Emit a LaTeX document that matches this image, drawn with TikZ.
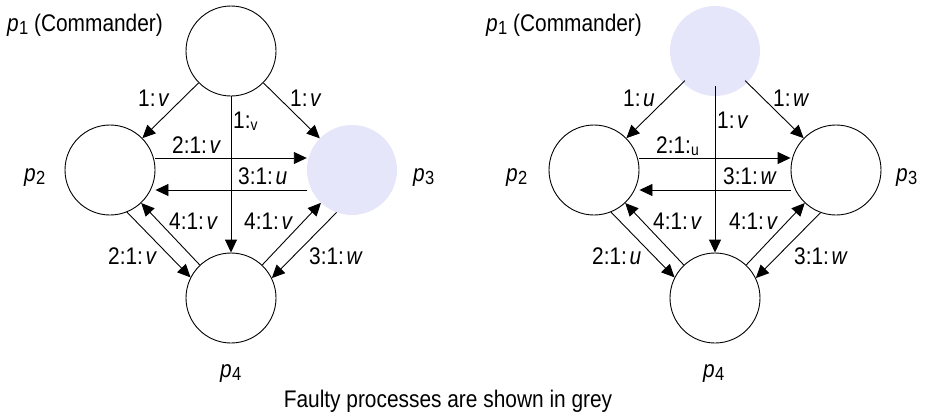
\documentclass[tikz,border=0pt]{standalone}
\usepackage{fontspec}
\setmainfont{Liberation Sans}[FakeStretch=0.87]
\usetikzlibrary{arrows.meta}
\definecolor{faulty}{RGB}{230,230,250}
\newcommand\proc[1]{\textit{p}\kern0.3pt\raisebox{-3pt}{\fontsize{19}{19}\selectfont #1}}
\newcommand\lab[2]{#1\kern2.5pt\textit{#2}}
\newcommand\subl[1]{\raisebox{-2pt}{\fontsize{16}{16}\selectfont #1}}
\begin{document}
\begin{tikzpicture}[x=1pt,y=-1pt,
  procc/.style={circle,minimum size=90pt,inner sep=0pt},
  ok/.style={procc,draw,line width=0.9pt},
  bad/.style={procc,fill=faulty},
  arr/.style={line width=0.9pt,-{Triangle[length=13pt,width=12pt]}},
  txt/.style={inner sep=0pt,anchor=base west,font=\fontsize{24}{28}\selectfont}]
\useasboundingbox (0,0) rectangle (926,418);

% ---------- left diagram ----------
\node[ok]  (a1) at (231,51)  {};
\node[ok]  (a2) at (110,170) {};
\node[bad] (a3) at (352,170) {};
\node[ok]  (a4) at (231,298) {};

\draw[arr] (a1) -- (a2);
\draw[arr] (a1) -- (a3);
\draw[arr] (a1) -- (a4);
\draw[arr] ([yshift=12pt]a2.east) -- ([yshift=12pt]a3.west);
\draw[arr] ([yshift=-20pt]a3.west) -- ([yshift=-20pt]a2.east);
\draw[arr] (a4) -- (a2);
\draw[arr] (a2.-68) -- (a4.153);
\draw[arr] (a4) -- (a3);
\draw[arr] (a3.-110) -- (a4.26);

\node[txt] (ta1) at (7,31)    {\proc{1} (Commander)};
\node[txt] (ta2) at (24,181)  {\proc{2}};
\node[txt] (ta3) at (413,181) {\proc{3}};
\node[txt] (ta4) at (220,377) {\proc{4}};
\node[txt] (la12) at (138,106) {\lab{1:}{v}};
\node[txt] (la13) at (290,106) {\lab{1:}{v}};
\node[txt] (la14) at (233,128) {1:\subl{v}};
\node[txt] (la23) at (172,153) {\lab{2:1:}{v}};
\node[txt] (la32) at (238,184) {\lab{3:1:}{u}};
\node[txt] (la42) at (169,229) {\lab{4:1:}{v}};
\node[txt] (la43) at (244,229) {\lab{4:1:}{v}};
\node[txt] (la24) at (108,264) {\lab{2:1:}{v}};
\node[txt] (la34) at (309,264) {\lab{3:1:}{w}};

% ---------- right diagram ----------
\node[bad] (b1) at (715,51)  {};
\node[ok]  (b2) at (594,170) {};
\node[ok]  (b3) at (836,170) {};
\node[ok]  (b4) at (715,298) {};

\draw[arr,shorten <=-3pt] (b1) -- (b2);
\draw[arr,shorten <=-3pt] (b1) -- (b3);
\draw[arr,shorten <=-10pt] (b1) -- (b4);
\draw[arr] ([yshift=12pt]b2.east) -- ([yshift=12pt]b3.west);
\draw[arr] ([yshift=-20pt]b3.west) -- ([yshift=-20pt]b2.east);
\draw[arr] (b4) -- (b2);
\draw[arr] (b2.-68) -- (b4.153);
\draw[arr] (b4) -- (b3);
\draw[arr] (b3.-110) -- (b4.26);

\node[txt] (tb1) at (486,31)  {\proc{1} (Commander)};
\node[txt] (tb2) at (506,181) {\proc{2}};
\node[txt] (tb3) at (896,181) {\proc{3}};
\node[txt] (tb4) at (703,377) {\proc{4}};
\node[txt] (lb12) at (623,106) {\lab{1:}{u}};
\node[txt] (lb13) at (773,106) {\lab{1:}{w}};
\node[txt] (lb14) at (717,128) {\lab{1:}{v}};
\node[txt] (lb23) at (656,153) {2:1:\subl{u}};
\node[txt] (lb32) at (723,184) {\lab{3:1:}{w}};
\node[txt] (lb42) at (653,229) {\lab{4:1:}{v}};
\node[txt] (lb43) at (729,229) {\lab{4:1:}{v}};
\node[txt] (lb24) at (592,264) {\lab{2:1:}{u}};
\node[txt] (lb34) at (794,264) {\lab{3:1:}{w}};

% ---------- caption ----------
\node[inner sep=0pt,anchor=base,font=\fontsize{24}{28}\selectfont] (cap) at (448,407)
  {Faulty processes are shown in grey};
\end{tikzpicture}
\end{document}
